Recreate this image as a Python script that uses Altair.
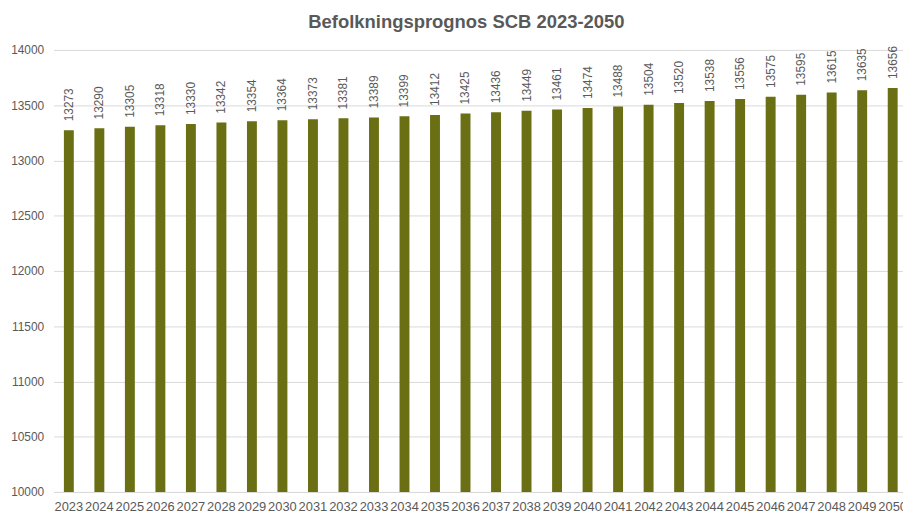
import altair as alt
import pandas as pd

years = [str(y) for y in range(2023, 2051)]
values = [13273, 13290, 13305, 13318, 13330, 13342, 13354, 13364, 13373, 13381,
          13389, 13399, 13412, 13425, 13436, 13449, 13461, 13474, 13488, 13504,
          13520, 13538, 13556, 13575, 13595, 13615, 13635, 13656]

df = pd.DataFrame({"year": years, "value": values})

FONT = "Liberation Sans"
GRAY = "#595959"

x = alt.X("year:N", sort=None, title=None,
          scale=alt.Scale(range=[0, 862], paddingInner=0, paddingOuter=0),
          axis=alt.Axis(labelAngle=0, labelFont=FONT, labelFontSize=13, labelColor=GRAY,
                        ticks=False, domainColor="#d9d9d9", labelPadding=9, grid=False))
y = alt.Y("value:Q", title=None,
          scale=alt.Scale(domain=[10000, 14000], nice=False, zero=False, clamp=True),
          axis=alt.Axis(values=list(range(10000, 14001, 500)), format="d", labelFont=FONT,
                        labelFontSize=12, labelColor=GRAY, ticks=False, domain=False,
                        gridColor="#d9d9d9", labelPadding=10))

bars = alt.Chart(df).mark_bar(size=10, color="#6B6F13").encode(
    x=x, y=y, y2=alt.datum(10000))
labels = alt.Chart(df).mark_text(angle=270, align="left", baseline="middle", dx=9,
                                 font=FONT, fontSize=12, color=GRAY).encode(
    x=alt.X("year:N", sort=None),
    y="value:Q",
    text="value:Q",
)

chart = (bars + labels).properties(
    width=857, height=446,
    autosize=alt.AutoSizeParams(type="none"),
    padding={"left": 46, "top": 40, "right": 0, "bottom": 22},
    title=alt.TitleParams("Befolkningsprognos SCB 2023-2050", font=FONT, fontSize=18.6,
                          fontWeight="bold", color=GRAY, anchor="middle", dx=-12, offset=12),
).configure_view(stroke=None)

chart.save("out.html", embed_options={"renderer": "svg", "actions": False})
